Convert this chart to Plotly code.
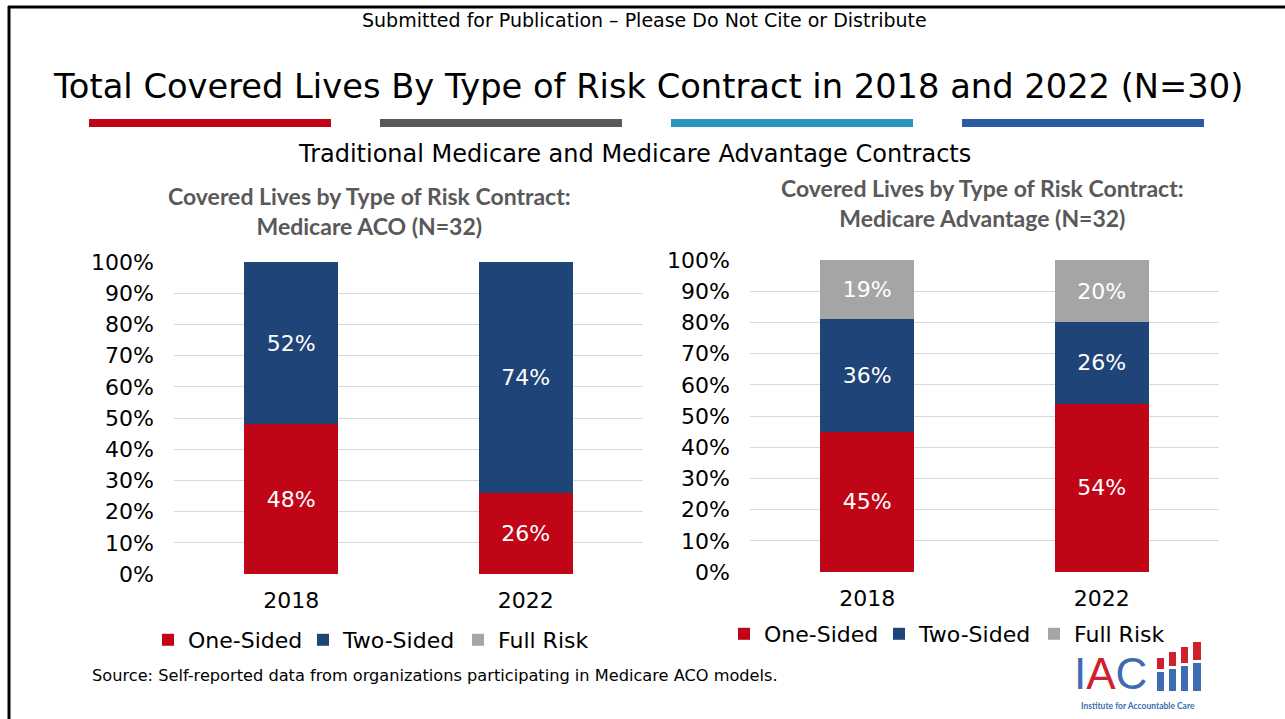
import plotly.graph_objects as go

W, H = 1285, 719

YEARS = ["2018", "2022"]
ACO_ONE = [48, 26]
ACO_TWO = [52, 74]
ACO_FULL = [0, 0]
MA_ONE = [45, 54]
MA_TWO = [36, 26]
MA_FULL = [19, 20]
SERIES = ["One-Sided", "Two-Sided", "Full Risk"]
Y_TICKS = [0, 10, 20, 30, 40, 50, 60, 70, 80, 90, 100]
Y_TICK_LABELS = [f"{v}%" for v in Y_TICKS]

RED = "#C00616"
NAVY = "#1F4477"
GRAY = "#A5A5A5"
COLORS = [RED, NAVY, GRAY]
FONT = "DejaVu Sans, Verdana, sans-serif"

def px(x):
    return x / W

def py(y):
    return 1 - y / H

fig = go.Figure()

aco = [ACO_ONE, ACO_TWO, ACO_FULL]
ma = [MA_ONE, MA_TWO, MA_FULL]
for i, name in enumerate(SERIES):
    vals = aco[i]
    fig.add_trace(go.Bar(
        x=YEARS, y=vals, name=name, marker_color=COLORS[i], marker_line_width=0,
        width=0.4, xaxis="x", yaxis="y", legend="legend",
        text=[f"{v}%" if v > 0 else "" for v in vals], textposition="inside",
        insidetextanchor="middle", textangle=0,
        textfont=dict(color="white", size=22, family=FONT), hoverinfo="skip"))
for i, name in enumerate(SERIES):
    vals = ma[i]
    fig.add_trace(go.Bar(
        x=YEARS, y=vals, name=name, marker_color=COLORS[i], marker_line_width=0,
        width=0.4, xaxis="x2", yaxis="y2", legend="legend2",
        text=[f"{v}%" for v in vals], textposition="inside",
        insidetextanchor="middle", textangle=0,
        textfont=dict(color="white", size=22, family=FONT), hoverinfo="skip"))

yax = dict(range=[0, 100], tickvals=Y_TICKS, ticktext=Y_TICK_LABELS, showgrid=True,
           gridcolor="#D9D9D9", gridwidth=1, zeroline=False, showline=False, ticks="",
           tickfont=dict(family=FONT, size=22, color="#000"), ticklabelstandoff=19,
           fixedrange=True, automargin=False)
xax = dict(type="category", range=[-0.5, 1.5], showgrid=False, zeroline=False, showline=False,
           ticks="", tickfont=dict(family=FONT, size=22, color="#000"), ticklabelstandoff=11,
           fixedrange=True, automargin=False)

fig.update_layout(
    width=W, height=H, margin=dict(l=0, r=0, t=0, b=0, autoexpand=False),
    paper_bgcolor="white", plot_bgcolor="white", barmode="stack",
    xaxis=dict(xax, domain=[px(174), px(643)], anchor="y"),
    yaxis=dict(yax, domain=[py(574), py(262)], anchor="x"),
    xaxis2=dict(xax, domain=[px(750), px(1219)], anchor="y2"),
    yaxis2=dict(yax, domain=[py(572), py(260)], anchor="x2"),
    legend=dict(orientation="h", x=px(148), y=py(640), xanchor="left", yanchor="middle",
                font=dict(family=FONT, size=22, color="#000"), entrywidth=110,
                bgcolor="rgba(0,0,0,0)", traceorder="normal"),
    legend2=dict(orientation="h", x=px(724), y=py(634), xanchor="left", yanchor="middle",
                 font=dict(family=FONT, size=22, color="#000"), entrywidth=110,
                 bgcolor="rgba(0,0,0,0)", traceorder="normal"),
    showlegend=True,
)

ann = []
ann.append(dict(text="Submitted for Publication – Please Do Not Cite or Distribute",
                x=px(644), y=py(20), font=dict(family=FONT, size=19, color="#000")))
ann.append(dict(text="Total Covered Lives By Type of Risk Contract in 2018 and 2022 (N=30)",
                x=px(648), y=py(86), font=dict(family=FONT, size=33.7, color="#000")))
ann.append(dict(text="Traditional Medicare and Medicare Advantage Contracts",
                x=px(634), y=py(154), font=dict(family=FONT, size=24, color="#000")))
ann.append(dict(text="<b>Covered Lives by Type of Risk Contract:<br>Medicare ACO (N=32)</b>",
                x=px(370), y=py(211), font=dict(family="Lato, Open Sans, sans-serif", size=23, color="#595959")))
ann.append(dict(text="<b>Covered Lives by Type of Risk Contract:<br>Medicare Advantage (N=32)</b>",
                x=px(983), y=py(203), font=dict(family="Lato, Open Sans, sans-serif", size=23, color="#595959")))
ann.append(dict(text="Source: Self-reported data from organizations participating in Medicare ACO models.",
                x=px(90), y=py(675), xanchor="left", font=dict(family=FONT, size=16.2, color="#000")))
# logo
LOGO_FONT = "Liberation Sans Narrow, Liberation Sans, sans-serif"
ann.append(dict(text="<span style='color:#3D6DB0'>I</span><span style='color:#D0202E'>A</span><span style='color:#3D6DB0'>C</span>",
                x=px(1072), y=py(673), xanchor="left", font=dict(family=LOGO_FONT, size=44)))
ann.append(dict(text="<b>Institute for Accountable Care</b>",
                x=px(1138), y=py(706), font=dict(family="Lato, sans-serif", size=8.5, color="#3D6DB0")))
for a in ann:
    a.update(xref="paper", yref="paper", showarrow=False, yanchor="middle",
             xanchor=a.get("xanchor", "center"))
fig.update_layout(annotations=ann)

shapes = []
# colored bars under title
for x0, x1, c in [(89, 331, "#C00616"), (380, 622, "#595959"), (671, 913, "#2A96C0"), (962, 1204, "#2A5CA3")]:
    shapes.append(dict(type="rect", xref="paper", yref="paper", x0=px(x0), x1=px(x1),
                       y0=py(127), y1=py(119), fillcolor=c, line_width=0))
# border
shapes.append(dict(type="line", xref="paper", yref="paper", x0=px(8), x1=1, y0=py(7), y1=py(7),
                   line=dict(color="#000", width=3)))
shapes.append(dict(type="line", xref="paper", yref="paper", x0=px(9), x1=px(9), y0=py(6), y1=0,
                   line=dict(color="#000", width=3)))
# logo bars
for (x0, x1, top, mid) in [(1157, 1164, 658, 671), (1169, 1176, 652, 668), (1181, 1188, 647, 665), (1193, 1201, 642, 662)]:
    shapes.append(dict(type="rect", xref="paper", yref="paper", x0=px(x0), x1=px(x1),
                       y0=py(mid - 2), y1=py(top), fillcolor="#D0202E", line_width=0))
    shapes.append(dict(type="rect", xref="paper", yref="paper", x0=px(x0), x1=px(x1),
                       y0=py(691), y1=py(mid + 1), fillcolor="#3D6DB0", line_width=0))
fig.update_layout(shapes=shapes)

fig.write_html("out.html", config={"displayModeBar": False},
               post_script="document.body.style.margin='0';")
